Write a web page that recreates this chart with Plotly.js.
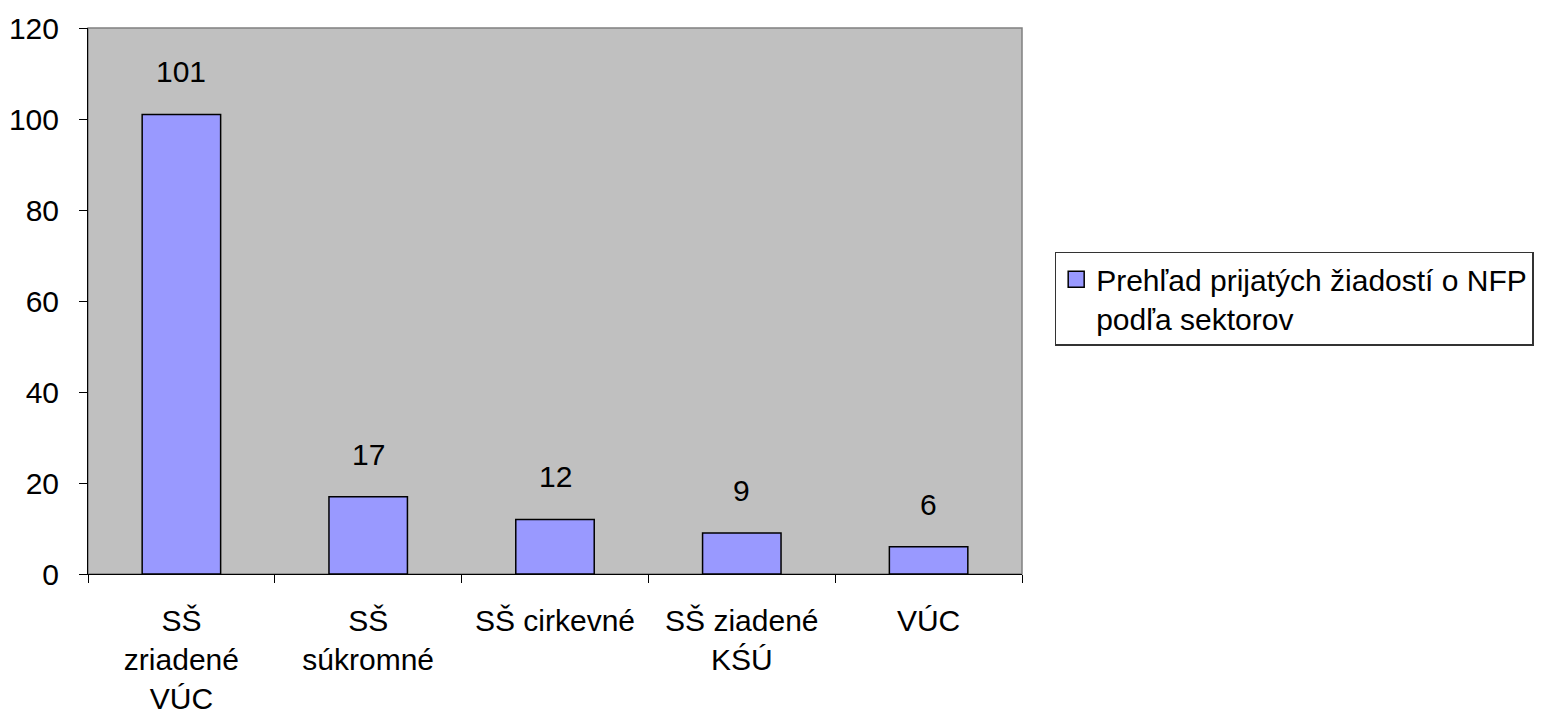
<!DOCTYPE html>
<html>
<head>
<meta charset="utf-8">
<script src="https://cdn.plot.ly/plotly-3.0.1.min.js"></script>
<style>html,body{margin:0;padding:0;background:#fff;}#chart{width:1560px;height:723px;}</style>
</head>
<body>
<div id="chart"></div>
<script>
var categories = ["SŠ<br>zriadené<br>VÚC", "SŠ<br>súkromné", "SŠ cirkevné", "SŠ ziadené<br>KŚÚ", "VÚC"];
var values = [101, 17, 12, 9, 6];
var seriesName = "Prehľad prijatých žiadostí o NFP<br>podľa sektorov";
var yTicks = [0, 20, 40, 60, 80, 100, 120];

var font = {family: "Liberation Sans, Arial, sans-serif", size: 30, color: "#000"};
var barColor = "#9999FF";

var trace = {
  type: "bar",
  x: categories,
  y: values,
  name: seriesName,
  legendgroup: "s",
  width: 0.42,
  marker: {color: barColor, line: {color: "#000", width: 1.5}},
  showlegend: false,
  hoverinfo: "x+y"
};

// legend entry for the same series (larger square swatch, like the original)
var legendEntry = {
  type: "scatter", mode: "markers",
  x: [null], y: [null],
  name: seriesName,
  legendgroup: "s",
  marker: {symbol: "square", size: 17, color: barColor, line: {color: "#000", width: 1.5}},
  showlegend: true
};

var annotations = categories.map(function(c, i) {
  return {x: c, y: values[i], text: String(values[i]), showarrow: false,
          xref: "x", yref: "y", yanchor: "bottom", yshift: 24, font: font};
});

var layout = {
  width: 1560, height: 723,
  margin: {l: 88, r: 538, t: 28, b: 149},
  paper_bgcolor: "#fff",
  plot_bgcolor: "#C0C0C0",
  font: font,
  bargap: 0,
  xaxis: {
    type: "category",
    tickson: "boundaries",
    ticks: "outside", ticklen: 8, tickcolor: "#000", tickwidth: 1,
    showline: true, linecolor: "#000", linewidth: 1,
    showgrid: false, zeroline: false,
    ticklabelstandoff: 20,
    tickfont: font
  },
  yaxis: {
    range: [0, 120],
    tickvals: yTicks,
    ticks: "outside", ticklen: 8, tickcolor: "#000", tickwidth: 1,
    showline: true, linecolor: "#000", linewidth: 1,
    showgrid: false, zeroline: false,
    ticklabelstandoff: 14,
    tickfont: font
  },
  shapes: [{type: "rect", xref: "paper", yref: "paper", x0: 0, x1: 1, y0: 0, y1: 1,
            line: {color: "#808080", width: 1.5}, layer: "below"}],
  legend: {
    x: 1.035, xanchor: "left", y: 0.59, yanchor: "top",
    bgcolor: "#fff", bordercolor: "#333", borderwidth: 1.5,
    font: font, itemsizing: "trace", valign: "top"
  },
  annotations: annotations
};

Plotly.newPlot("chart", [trace, legendEntry], layout, {displayModeBar: false, staticPlot: true});
</script>
</body>
</html>
